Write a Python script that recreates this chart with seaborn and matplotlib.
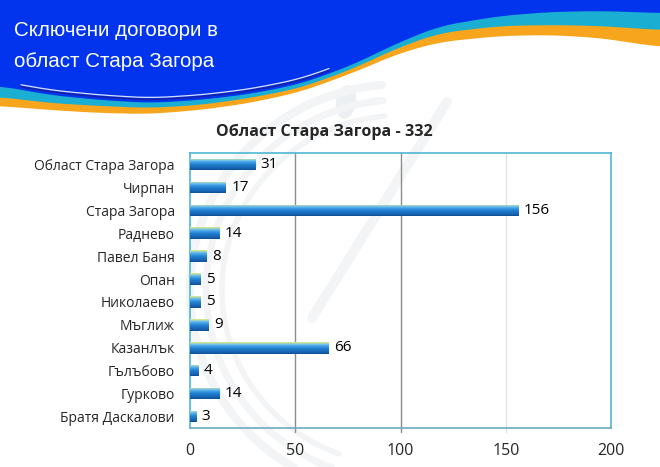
import numpy as np
import pandas as pd
import seaborn as sns
import matplotlib
matplotlib.use("Agg")
import matplotlib.pyplot as plt
from matplotlib.colors import LinearSegmentedColormap

# data
municipalities = ["Област Стара Загора", "Чирпан", "Стара Загора", "Раднево",
                  "Павел Баня", "Опан", "Николаево", "Мъглиж", "Казанлък",
                  "Гълъбово", "Гурково", "Братя Даскалови"]
contracts = [31, 17, 156, 14, 8, 5, 5, 9, 66, 4, 14, 3]
chart_title = "Област Стара Загора - 332"
slide_title = "Сключени договори в\nобласт Стара Загора"
x_ticks = [0, 50, 100, 150, 200]

df = pd.DataFrame({"municipality": municipalities, "contracts": contracts})

sns.set_theme(style="white")
plt.rcParams["font.family"] = ["Open Sans", "DejaVu Sans"]

fig = plt.figure(figsize=(6.6, 4.67), dpi=100)
fig.patch.set_facecolor("white")

# background layer in pixel coordinates for the slide decoration
bg = fig.add_axes([0, 0, 1, 1], zorder=0)
bg.set_xlim(0, 660)
bg.set_ylim(467, 0)
bg.axis("off")


def smooth_curve(pts, width=41):
    px = np.arange(-60, 721)
    py = np.interp(px, [p[0] for p in pts], [p[1] for p in pts])
    k = np.ones(width) / width
    py = np.convolve(np.pad(py, width // 2, mode="edge"), k, mode="valid")
    return px, py


blue_edge = [(0, 86), (50, 95), (100, 100), (150, 103), (200, 100), (250, 94),
             (300, 84), (350, 66), (400, 42), (440, 26), (500, 16), (550, 12),
             (600, 11), (660, 13)]
teal_edge = [(0, 97), (50, 103), (100, 106), (150, 108), (200, 105), (250, 98),
             (300, 88), (350, 70), (400, 47), (440, 33), (500, 26), (550, 25),
             (600, 26), (660, 30)]
orange_edge = [(0, 106), (50, 110), (100, 113), (150, 114), (200, 110), (250, 103),
               (300, 92), (350, 74), (400, 53), (440, 42), (500, 36), (550, 35),
               (600, 38), (660, 47)]

xs, y_or = smooth_curve(orange_edge)
_, y_te = smooth_curve(teal_edge)
_, y_bl = smooth_curve(blue_edge)
bg.fill_between(xs, 0, y_or, color="#F7A51C", lw=0)
bg.fill_between(xs, 0, y_te, color="#1BAED3", lw=0)
bg.fill_between(xs, 0, y_bl, color="#0234EE", lw=0)
m = (xs > 20) & (xs < 330)
bg.plot(xs[m], y_bl[m] - 3, color="#1522A8", lw=1.2)
bg.plot(xs[m], y_bl[m] - 5, color="white", lw=0.9, alpha=0.85)

# faint watermark logo
wm = "#F2F4F6"
t = np.linspace(np.radians(95), np.radians(250), 200)
for r, lw in [(178, 4), (194, 5), (210, 6)]:
    bg.plot(400 + r * np.cos(t), 290 - r * np.sin(t) * 0.98, color=wm, lw=lw,
            solid_capstyle="round")
bg.plot([447, 312], [102, 318], color=wm, lw=7, solid_capstyle="round")
bg.add_patch(matplotlib.patches.Ellipse((346, 102), 20, 34, angle=10, color="#EDF0F3", lw=0))

bg.text(14, 46, slide_title, color="white", fontsize=14.8,
        family=["Liberation Sans", "DejaVu Sans"], va="center", ha="left",
        linespacing=1.85)

# chart
ax = fig.add_axes([190 / 660, 1 - 428 / 467, 421 / 660, 275 / 467], zorder=2)
ax.patch.set_alpha(0)
sns.barplot(data=df, x="contracts", y="municipality", orient="h",
            color="#1E78C8", width=0.5, ax=ax)

bar_cmap = LinearSegmentedColormap.from_list(
    "bar", ["#E2EC7C", "#6CBDF0", "#3494E0", "#1E78C8", "#1868B8", "#0F4F94"])
grad = np.linspace(0, 1, 40).reshape(-1, 1)
for patch in ax.patches:
    x0, y0, w, h = patch.get_bbox().bounds
    patch.set_facecolor("none")
    patch.set_edgecolor("none")
    im = ax.imshow(grad, cmap=bar_cmap, aspect="auto", interpolation="bilinear",
                   extent=(x0, x0 + w, y0 + h, y0), zorder=3)
    im.set_clip_path(patch)

ax.bar_label(ax.containers[0], padding=4, fontsize=11, color="black")

ax.set_xlim(0, 200)
ax.set_ylim(len(municipalities) - 0.5, -0.5)
ax.set_xticks(x_ticks)
ax.set_xticklabels([str(v) for v in x_ticks], fontsize=11.5)
ax.set_xlabel("")
ax.set_ylabel("")
ax.tick_params(axis="y", length=0, labelsize=10, pad=11)
ax.tick_params(axis="x", length=0, pad=11)
ax.set_yticks(np.arange(-0.5, len(municipalities)), minor=True)
ax.tick_params(axis="y", which="minor", length=5, color="#A0A0A0", width=0.8)

for v, c in zip([50, 100, 150], ["#8C8C8C", "#8C8C8C", "#E2E2E2"]):
    ax.axvline(v, ymin=-0.015, ymax=1, color=c, lw=1, clip_on=False, zorder=1)

for side in ["left", "right", "top"]:
    ax.spines[side].set_color("#4DB6D9")
    ax.spines[side].set_linewidth(1.2)
ax.spines["bottom"].set_color("#6FA9C0")
ax.spines["bottom"].set_linewidth(1.2)

fig.text(324 / 660, 1 - 132 / 467, chart_title, fontsize=11.6, fontweight="bold",
         ha="center", va="center")

fig.savefig("out.png", dpi=100)
